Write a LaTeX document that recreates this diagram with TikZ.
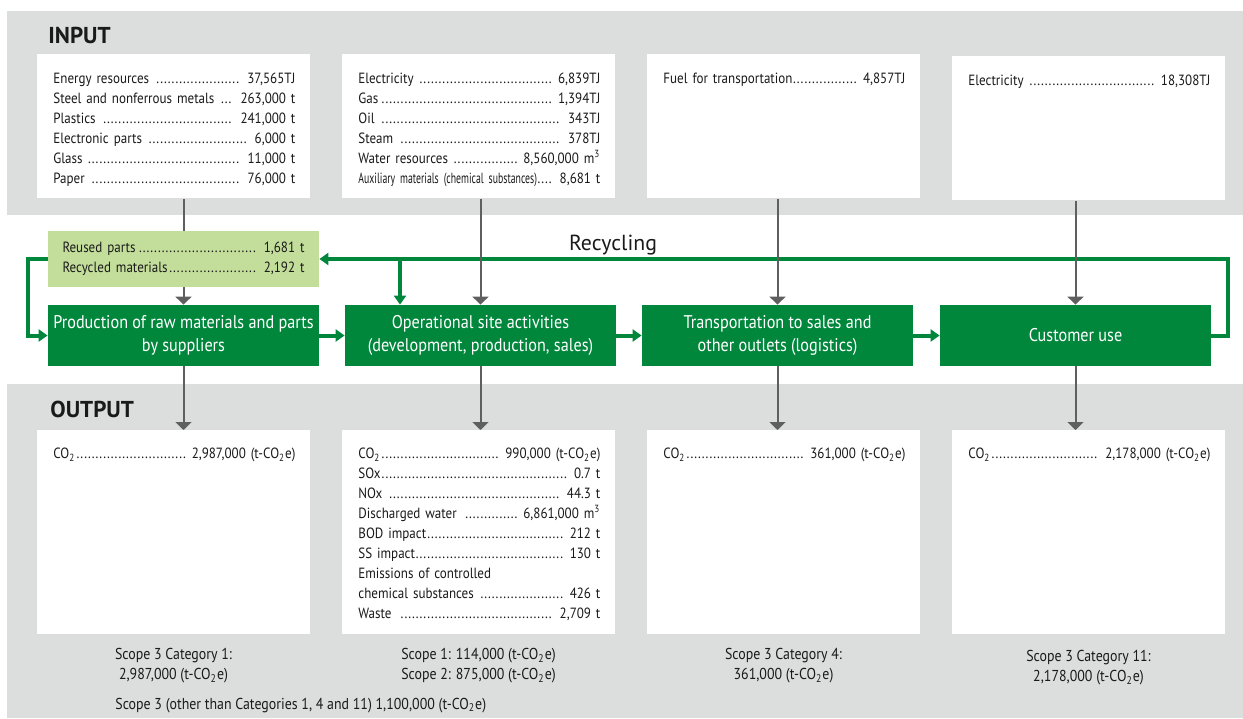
\documentclass[tikz,border=0pt]{standalone}
\usepackage{fontspec}
\setmainfont[FakeStretch=0.88]{PT Sans}
\newfontfamily\widefont{PT Sans}
\newfontfamily\narrowfont[FakeStretch=0.66]{PT Sans}
\usetikzlibrary{arrows.meta}
\definecolor{panel-gray}{HTML}{DCDDDD}
\definecolor{flow-green}{HTML}{00873C}
\definecolor{reuse-green}{HTML}{C3DE9A}
\definecolor{link-gray}{HTML}{5F5F5F}
\definecolor{jet}{HTML}{1A1A1A}

\newcommand{\dotlead}{\leaders\hbox to 1.9pt{\hss.\hss}\hfill}
\newcommand{\entry}[2]{\makebox[121pt][s]{{#1}\dotlead\ #2}}

\begin{document}
\begin{tikzpicture}[x=0.5pt, y=-0.5pt,
  every node/.style={font=\fontsize{7.4}{10}\selectfont, text=jet},
  panel/.style={fill=panel-gray},
  listbox/.style={fill=white, minimum width=136.5pt, minimum height=72pt, anchor=north west, inner sep=0pt},
  outbox/.style={listbox, minimum height=102pt},
  listing/.style={anchor=north west, text width=121pt, align=left, inner sep=0pt},
  stage/.style={fill=flow-green, text=white, minimum width=135.5pt, minimum height=30.5pt, align=center, inner sep=0pt, font=\fontsize{9.2}{11.5}\selectfont},
  reusebox/.style={fill=reuse-green, minimum width=135.5pt, minimum height=28pt, text width=121pt, align=left, inner sep=0pt},
  heading/.style={font=\widefont\bfseries\fontsize{11.5}{13}\selectfont, anchor=base west, inner sep=0pt},
  scope/.style={align=center, inner sep=0pt, font=\fontsize{7.9}{10}\selectfont},
  feedline/.style={draw=link-gray, line width=1pt},
  feed/.style={feedline, -{Triangle[width=8pt,length=4pt]}},
  flow/.style={draw=flow-green, line width=2pt, -{Triangle[width=6pt,length=4.5pt]}}]
  \useasboundingbox (0,0) rectangle (1243,718);
  \fill[panel] (7,11) rectangle (1243,215);
  \fill[panel] (7,384) rectangle (1243,718);
  \node[heading] (inhead) at (48,43) {INPUT};
  \node[heading] (outhead) at (50,417) {OUTPUT};

  % input boxes
  \node[listbox] (in1) at (37,54) {};
  \node[listbox] (in2) at (342,54) {};
  \node[listbox] (in3) at (647,54) {};
  \node[listbox] (in4) at (952,56) {};
  \node[listing] (in1list) at ([shift={(8pt,-9.3pt)}]in1.north west)
    {\entry{Energy resources }{37,565TJ}\\
     \entry{Steel and nonferrous metals }{263,000 t}\\
     \entry{Plastics }{241,000 t}\\
     \entry{Electronic parts }{6,000 t}\\
     \entry{Glass }{11,000 t}\\
     \entry{Paper }{76,000 t}};
  \node[listing] (in2list) at ([shift={(8pt,-9.3pt)}]in2.north west)
    {\entry{Electricity }{6,839TJ}\\
     \entry{Gas}{1,394TJ}\\
     \entry{Oil }{343TJ}\\
     \entry{Steam }{378TJ}\\
     \entry{Water resources }{8,560,000 m\textsuperscript{3}}\\
     \entry{\narrowfont Auxiliary materials (chemical substances)}{8,681 t}};
  \node[listing] (in3list) at ([shift={(8pt,-9.3pt)}]in3.north west)
    {\entry{Fuel for transportation}{4,857TJ}};
  \node[listing] (in4list) at ([shift={(8pt,-9.3pt)}]in4.north west)
    {\entry{Electricity }{18,308TJ}};

  % stages
  \node[reusebox] (reuse) at (183.5,259)
    {\entry{Reused parts}{1,681 t}\\
     \entry{Recycled materials}{2,192 t}};
  \node[stage] (prod) at (183.5,335.5) {Production of raw materials and parts\\by suppliers};
  \node[stage] (site) at (480.5,335.5) {Operational site activities\\(development, production, sales)};
  \node[stage] (trans) at (777.5,335.5) {Transportation to sales and\\other outlets (logistics)};
  \node[stage] (use) at (1075.5,335.5) {Customer use};
  \node[font=\widefont\fontsize{10.9}{12}\selectfont, anchor=base] (recycle) at (613,250) {Recycling};

  % output boxes
  \node[outbox] (out1) at (37,430) {};
  \node[outbox] (out2) at (342,430) {};
  \node[outbox] (out3) at (647,430) {};
  \node[outbox] (out4) at (952,430) {};
  \node[listing] (out1list) at ([shift={(8pt,-8.8pt)}]out1.north west)
    {\entry{CO\textsubscript{2}}{2,987,000 (t-CO\textsubscript{2}e)}};
  \node[listing] (out2list) at ([shift={(8pt,-8.8pt)}]out2.north west)
    {\entry{CO\textsubscript{2}}{990,000 (t-CO\textsubscript{2}e)}\\
     \entry{SOx}{0.7 t}\\
     \entry{NOx }{44.3 t}\\
     \entry{Discharged water }{6,861,000 m\textsuperscript{3}}\\
     \entry{BOD impact}{212 t}\\
     \entry{SS impact}{130 t}\\
     Emissions of controlled\\
     \entry{chemical substances }{426 t}\\
     \entry{Waste }{2,709 t}};
  \node[listing] (out3list) at ([shift={(8pt,-8.8pt)}]out3.north west)
    {\entry{CO\textsubscript{2}}{361,000 (t-CO\textsubscript{2}e)}};
  \node[listing] (out4list) at ([shift={(8pt,-8.8pt)}]out4.north west)
    {\entry{CO\textsubscript{2}}{2,178,000 (t-CO\textsubscript{2}e)}};

  \node[scope] (cap1) at (173.5,666) {Scope 3 Category 1:\\2,987,000 (t-CO\textsubscript{2}e)};
  \node[scope] (cap2) at (478.5,666) {Scope 1: 114,000 (t-CO\textsubscript{2}e)\\Scope 2: 875,000 (t-CO\textsubscript{2}e)};
  \node[scope] (cap3) at (783.5,666) {Scope 3 Category 4:\\361,000 (t-CO\textsubscript{2}e)};
  \node[scope] (cap4) at (1088.5,668) {Scope 3 Category 11:\\2,178,000 (t-CO\textsubscript{2}e)};
  \node[scope, anchor=base west] (cap0) at (115,709)
    {Scope 3 (other than Categories 1, 4 and 11) 1,100,000 (t-CO\textsubscript{2}e)};

  % recycling loop
  \coordinate (drop) at (400,259);
  \draw[flow] (prod.east) -- (site.west);
  \draw[flow] (site.east) -- (trans.west);
  \draw[flow] (trans.east) -- (use.west);
  \draw[flow] (use.east) -- ++(17,0) |- (reuse.east);
  \draw[flow] (drop) -- (drop |- site.north);
  \draw[flow] (reuse.west) -- ++(-20,0) |- (prod.west);

  % inputs and outputs
  \draw[feedline] (in1.south -| prod.north) -- (reuse.north);
  \draw[feed] (reuse.south) -- (prod.north);
  \draw[feed] (in2.south -| site.north) -- (site.north);
  \draw[feed] (in3.south -| trans.north) -- (trans.north);
  \draw[feed] (in4.south -| use.north) -- (use.north);
  \draw[feed] (prod.south) -- (prod.south |- out1.north);
  \draw[feed] (site.south) -- (site.south |- out2.north);
  \draw[feed] (trans.south) -- (trans.south |- out3.north);
  \draw[feed] (use.south) -- (use.south |- out4.north);
\end{tikzpicture}
\end{document}
